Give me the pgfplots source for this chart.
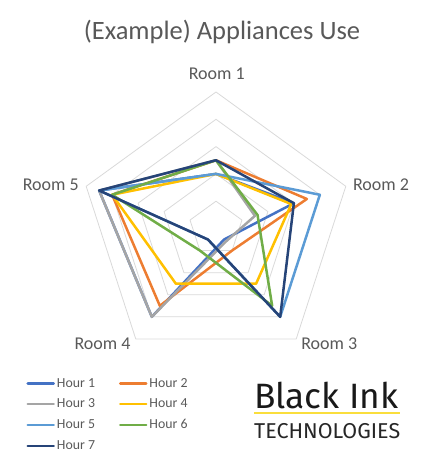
\documentclass[border=0pt]{standalone}
\usepackage{pgfplots}
\usepackage{pgfplotstable}
\usepackage{graphicx}
\usepackage{fontspec}
\pgfplotsset{compat=1.18}
\setmainfont{Carlito}
\newfontfamily\logofont{Fira Sans}

\definecolor{txt}{HTML}{595959}
\definecolor{gridc}{HTML}{D9D9D9}
\definecolor{h1}{HTML}{4472C4}
\definecolor{h2}{HTML}{ED7D31}
\definecolor{h3}{HTML}{A5A5A5}
\definecolor{h4}{HTML}{FFC000}
\definecolor{h5}{HTML}{5B9BD5}
\definecolor{h6}{HTML}{70AD47}
\definecolor{h7}{HTML}{264478}
\definecolor{logoyellow}{RGB}{250,222,60}

% angle of each room (Room 1 at top, clockwise), last row closes the shape
\pgfplotstableread{
ang  h1  h2  h3  h4  h5  h6  h7
90   2.0 2.5 2.5 2.0 2.0 2.5 2.5
18   3.0 3.5 1.5 2.9 4.0 1.6 3.0
-54  0.5 1.0 0.6 2.5 4.0 3.5 4.0
-126 4.0 3.5 4.0 2.5 0.5 1.0 0.5
162  4.5 4.0 4.5 4.0 4.5 4.0 4.5
450  2.0 2.5 2.5 2.0 2.0 2.5 2.5
}\rooms

\begin{document}
\begin{tikzpicture}
\path[use as bounding box] (0,0) rectangle (436bp,471bp);
\begin{axis}[
    at={(0,0)}, anchor=south west,
    scale only axis, width=436bp, height=471bp,
    xmin=-7.912, xmax=8.059, ymin=-8.883, ymax=8.370,
    hide axis, clip=false,
    data cs=polar,
    every axis plot/.append style={line width=2.5bp, line join=round, line cap=round},
    legend columns=2,
    legend style={at={(axis cs:-6.95,-5.41)}, anchor=north west,
        draw=none, fill=none, font=\fontsize{13.8bp}{15bp}\selectfont, text=txt,
        row sep=6.2bp, inner sep=0pt,
        /tikz/every even column/.append style={column sep=22bp}},
    legend image code/.code={\draw[#1] (0bp,0bp) -- (26bp,0bp);},
]
% pentagon grid
\pgfplotsinvokeforeach{1,2,3,4,5}{
  \addplot[gridc, line width=0.8bp, forget plot] coordinates {(90,#1) (18,#1) (-54,#1) (-126,#1) (162,#1) (450,#1)};
}
\addplot[h1] table[x=ang, y=h1] {\rooms}; \addlegendentry{Hour 1}
\addplot[h2] table[x=ang, y=h2] {\rooms}; \addlegendentry{Hour 2}
\addplot[h3] table[x=ang, y=h3] {\rooms}; \addlegendentry{Hour 3}
\addplot[h4] table[x=ang, y=h4] {\rooms}; \addlegendentry{Hour 4}
\addplot[h5] table[x=ang, y=h5] {\rooms}; \addlegendentry{Hour 5}
\addplot[h6] table[x=ang, y=h6] {\rooms}; \addlegendentry{Hour 6}
\addplot[h7] table[x=ang, y=h7] {\rooms}; \addlegendentry{Hour 7}

% title and room labels
\node[text=txt, font=\fontsize{26.5bp}{30bp}\selectfont] at (axis cs:0.22,7.20) {(Example) Appliances Use};
\begin{scope}[every node/.style={text=txt, font=\fontsize{18bp}{20bp}\selectfont}]
\node at (axis cs:0.03,5.685) {Room 1};
\node at (axis cs:6.044,1.619) {Room 2};
\node at (axis cs:4.150,-4.205) {Room 3};
\node at (axis cs:-4.158,-4.205) {Room 4};
\node at (axis cs:-6.051,1.619) {Room 5};
\end{scope}

% logo
\node[anchor=south west, inner sep=0pt, text=black!90] at (axis cs:1.392,-6.612)
  {\resizebox{144bp}{!}{\logofont Black Ink}};
\draw[logoyellow, line width=2bp] (axis cs:1.392,-6.769) -- (axis cs:6.740,-6.769);
\node[anchor=south west, inner sep=0pt, text=black!85] at (axis cs:1.392,-7.711)
  {\resizebox{146bp}{!}{\logofont TECHNOLOGIES}};
\end{axis}
\end{tikzpicture}
\end{document}
